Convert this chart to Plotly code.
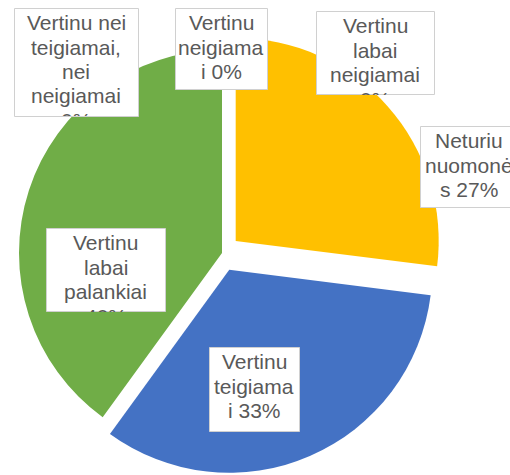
import plotly.graph_objects as go

# survey answers, in the order the slices go round (clockwise from 12 o'clock)
categories = ['Neturiu nuomonės', 'Vertinu teigiamai', 'Vertinu labai palankiai',
              'Vertinu nei teigiamai, nei neigiamai', 'Vertinu neigiamai',
              'Vertinu labai neigiamai']
values = [27, 33, 40, 0, 0, 0]

# styling
slice_colors = ['#FFC000', '#4472C4', '#70AD47', '#A5A5A5', '#ED7D31', '#5B9BD5']
pull = [0.09, 0.09, 0, 0, 0, 0]

W, H = 510, 475
PIE_CX, PIE_CY, PIE_R = 222, 253, 203

# label boxes in pixels (left, top, right, bottom), same order as categories
label_boxes = [(420, 126, 518, 207), (209, 347, 299, 431), (46, 228, 165, 311),
               (14, 8, 138, 116), (175, 8, 267, 89), (316, 11, 434, 94)]

FS = 21
LINE_STEP = 24.3
FIRST_BASE = 22
BOX_PAD = 3.2
ASC, DESC = 0.905, 0.212
TXT = '#595959'

# arial advance widths, 1/1000 em
CHAR_W = {'V': 667, 'N': 722, 'e': 556, 'r': 333, 't': 278, 'i': 222, 'n': 556,
          'u': 556, ' ': 278, 'l': 222, 'a': 556, 'b': 556, 'g': 556, 'm': 833,
          'p': 556, 'k': 500, 's': 500, 'o': 556, 'ė': 556, ',': 278, '%': 889}


def text_width(s):
    return sum(CHAR_W.get(c, 556) for c in s) * FS / 1000


def wrap(text, max_w):
    lines = []
    cur = ''
    for word in text.split(' '):
        trial = word if not cur else cur + ' ' + word
        if text_width(trial) <= max_w:
            cur = trial
            continue
        if cur:
            lines.append(cur)
            cur = ''
        # words wider than the box get cut like excel does
        while text_width(word) > max_w:
            k = len(word)
            while k > 1 and text_width(word[:k]) > max_w:
                k -= 1
            lines.append(word[:k])
            word = word[k:]
        cur = word
    if cur:
        lines.append(cur)
    return lines


side = 2 * PIE_R * (1 + max(pull))
dom_x = [(PIE_CX - side / 2) / W, (PIE_CX + side / 2) / W]
dom_y = [1 - (PIE_CY + side / 2) / H, 1 - (PIE_CY - side / 2) / H]

fig = go.Figure()
fig.add_trace(go.Pie(
    labels=categories, values=values, sort=False, direction='clockwise',
    rotation=0, pull=pull, textinfo='none', hoverinfo='label+percent',
    marker=dict(colors=slice_colors, line=dict(width=0)),
    domain=dict(x=dom_x, y=dom_y), showlegend=False))

total = sum(values)
for i, (cat, v) in enumerate(zip(categories, values)):
    x0, y0, x1, y1 = label_boxes[i]
    fig.add_shape(type='rect', xref='paper', yref='paper',
                  x0=(x0 + 0.5) / W, x1=(x1 + 0.5) / W,
                  y0=1 - (y0 + 0.5) / H, y1=1 - (y1 + 0.5) / H,
                  fillcolor='white', line=dict(color='#D0D0D0', width=1),
                  layer='above')
    label = f'{cat} {round(100 * v / total)}%'
    xc = (x0 + x1) / 2 / W
    for j, line in enumerate(wrap(label, x1 - x0 - 2 * BOX_PAD)):
        base = y0 + FIRST_BASE + j * LINE_STEP
        top = base - ASC * FS
        if base + DESC * FS <= y1 + 1:
            fig.add_annotation(x=xc, y=1 - (base - (ASC - DESC) / 2 * FS) / H,
                               xref='paper', yref='paper', xanchor='center',
                               yanchor='middle', text=line, showarrow=False,
                               borderpad=0, font=dict(family='Arial', size=FS, color=TXT))
        elif top < y1 - 1:
            # last line cut off by the bottom of the box
            fig.add_annotation(x=xc, y=1 - top / H, xref='paper', yref='paper',
                               xanchor='center', yanchor='top', valign='top',
                               height=int(y1 - top), text=line, showarrow=False,
                               borderpad=0, font=dict(family='Arial', size=FS, color=TXT))

fig.update_layout(width=W, height=H, margin=dict(l=0, r=0, t=0, b=0),
                  paper_bgcolor='white', plot_bgcolor='white')

fig.write_html('out.html', config={'displayModeBar': False},
               post_script="document.body.style.margin='0';")
